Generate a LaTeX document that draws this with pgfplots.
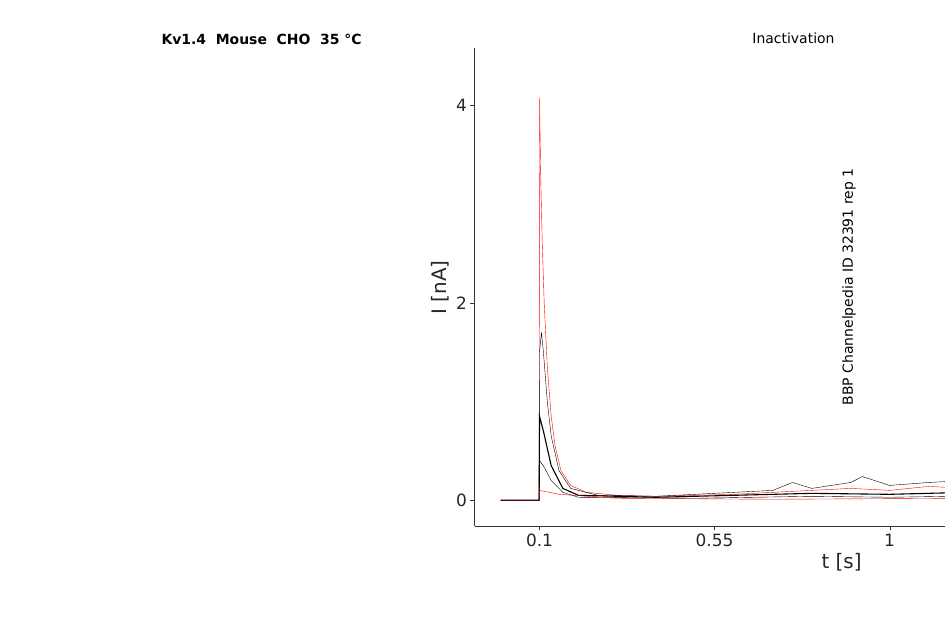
\documentclass[border=0pt]{standalone}
\usepackage{pgfplots}
\pgfplotsset{compat=1.18}
\usepackage{fontspec}
\setmainfont{DejaVu Sans}
\begin{document}
\begin{tikzpicture}[x=1bp,y=1bp]
\path[use as bounding box] (0,0) rectangle (945,624);
\begin{axis}[at={(122,99)},anchor=south west,scale only axis,width=734bp,height=478bp,
 xmin=-0.067,xmax=1.82,ymin=-0.263,ymax=4.577,
 axis x line*=bottom, axis y line*=left, axis line style={black!80},
 xtick={0.1,0.55,1,1.45}, xticklabels={0.1,0.55,1,1.45},
 ytick={0,2,4}, tick align=outside, tick style={black!80},
 /pgf/number format/assume math mode=true,
 ticklabel style={font=\fontsize{17}{17}\selectfont, text=black!85},
 xlabel={t [s]}, ylabel={I [nA]},
 label style={font=\fontsize{20}{20}\selectfont, text=black!85},
 cycle list={{red,no marks,line width=1.1pt,line join=round}},
 clip=false]
\addplot coordinates {(0,0)(0.099,0)(0.1,4.08)(0.103,3.3)(0.107,2.6)(0.112,2.0)(0.12,1.35)(0.13,0.85)(0.14,0.55)(0.155,0.3)(0.18,0.15)(0.22,0.08)(0.3,0.05)(0.4,0.04)(0.5,0.05)(0.6,0.06)(0.7,0.08)(0.8,0.1)(0.9,0.12)(1.0,0.1)(1.1,0.14)(1.2,0.12)(1.3,0.15)(1.4,0.13)(1.5,0.17)(1.55,0.2)(1.599,0.22)(1.6,2.25)(1.605,1.5)(1.61,1.0)(1.62,0.6)(1.63,0.4)(1.645,0.25)(1.66,0.15)(1.7,0.1)(1.701,-0.2)(1.705,-0.03)(1.753,-0.02)};
\addplot coordinates {(0,0)(0.099,0)(0.1,1.5)(0.105,1.7)(0.11,1.5)(0.12,1.0)(0.13,0.65)(0.15,0.3)(0.18,0.12)(0.25,0.05)(0.4,0.04)(0.5,0.06)(0.6,0.08)(0.7,0.1)(0.75,0.18)(0.8,0.12)(0.9,0.18)(0.93,0.24)(1.0,0.15)(1.1,0.18)(1.2,0.2)(1.3,0.17)(1.4,0.2)(1.5,0.22)(1.55,0.3)(1.599,0.28)(1.6,0.3)(1.62,0.25)(1.7,0.12)(1.701,0)(1.72,-0.02)};
\addplot coordinates {(0,0)(0.099,0)(0.1,0.85)(0.11,0.7)(0.13,0.35)(0.16,0.12)(0.2,0.05)(0.4,0.03)(0.6,0.05)(0.8,0.07)(1.0,0.06)(1.2,0.08)(1.4,0.1)(1.599,0.12)(1.6,0.15)(1.65,0.1)(1.7,0.06)(1.701,0)};
\addplot coordinates {(0,0)(0.099,0)(0.1,0.4)(0.11,0.35)(0.13,0.2)(0.16,0.08)(0.2,0.03)(0.5,0.02)(0.8,0.04)(1.0,0.03)(1.3,0.05)(1.599,0.06)(1.6,0.07)(1.7,0.05)(1.701,0)};
\addplot coordinates {(0,0)(0.099,0)(0.1,0.1)(0.15,0.06)(0.3,0.02)(0.7,0.01)(1.2,0.02)(1.599,0.01)(1.6,0.02)(1.7,0.01)(1.701,0)};
\end{axis}
\node[font=\bfseries\fontsize{14}{14}\selectfont,anchor=west] at (158,585) {Kv1.4\ \ Mouse\ \ CHO\ \ 35 °C};
\node[font=\fontsize{14}{14}\selectfont,anchor=east] at (838,586) {Inactivation};
\node[font=\fontsize{14}{14}\selectfont,rotate=90] at (849,337) {BBP Channelpedia ID 32391 rep 1};
\end{tikzpicture}
\end{document}
